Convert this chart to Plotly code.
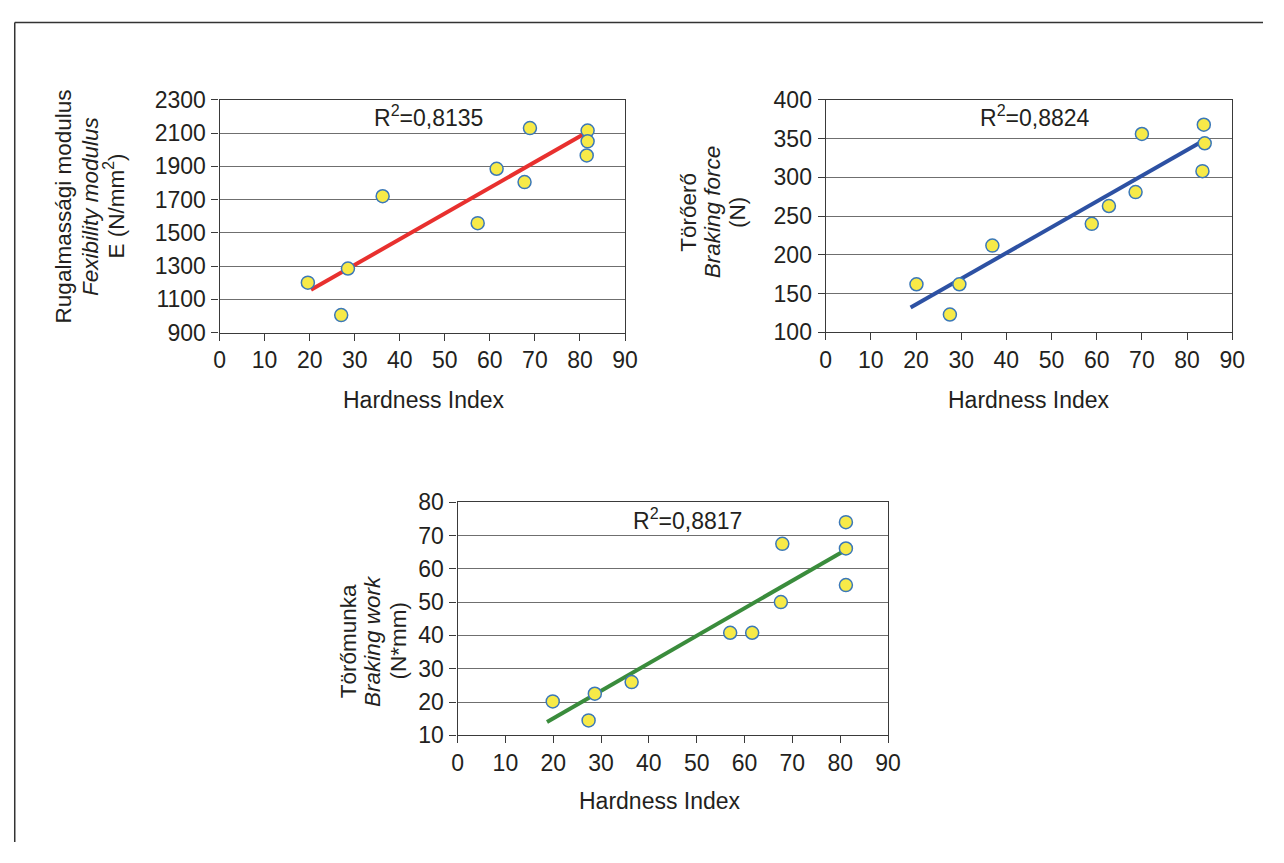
import plotly.graph_objects as go

# ---------------- data ----------------
hard_E = [19.6, 27.0, 28.5, 36.2, 57.3, 61.5, 67.7, 68.9, 81.7, 81.7, 81.5]
E_vals = [1200, 1005, 1285, 1720, 1558, 1885, 1805, 2130, 2115, 2050, 1965]
E_trend_x = [20.3, 80.7]
E_trend_y = [1157, 2091]

hard_F = [20.1, 27.5, 29.6, 36.9, 58.9, 62.7, 68.6, 70.0, 83.7, 83.9, 83.4]
F_vals = [162, 123, 162, 212, 240, 263, 281, 356, 368, 344, 308]
F_trend_x = [18.8, 82.9]
F_trend_y = [132, 345]

hard_W = [19.9, 27.4, 28.7, 36.4, 57.0, 61.6, 67.6, 67.9, 81.2, 81.2, 81.2]
W_vals = [20.2, 14.5, 22.5, 26.0, 40.8, 40.8, 50.0, 67.5, 74.0, 66.1, 55.1]
W_trend_x = [18.7, 80.6]
W_trend_y = [14.0, 65.2]

r2_labels = ["R<sup>2</sup>=0,8135", "R<sup>2</sup>=0,8824", "R<sup>2</sup>=0,8817"]
x_title = "Hardness Index"
y_titles = [
    ["Rugalmassági modulus", "<i>Fexibility modulus</i>", "E (N/mm<sup>2</sup>)"],
    ["Törőerő", "<i>Braking force</i>", "(N)"],
    ["Törőmunka", "<i>Braking work</i>", "(N*mm)"],
]

# ---------------- layout helpers ----------------
# the page body has an 8px margin; the figure fills the rest of the 1284x863 window
OFF = 8
W, H = 1284 - 2 * OFF, 863 - 2 * OFF
FONT = "Liberation Sans, Arial, sans-serif"
TXT = "#231f20"
FS = 23
FS_T = 22.5


def fx(px):
    return (px - OFF) / W


def fy(py):
    return 1 - (py - OFF) / H


fig = go.Figure()

panels = [
    dict(xs="x", ys="y", xd=(216.7, 628.3), yd=(89.3, 329.4), yr=(900, 2300), dt=200,
         hx=hard_E, hy=E_vals, tx=E_trend_x, ty=E_trend_y, col="#e8302e",
         r2=(46.4, 2202), tpos=(58, 85, 110), tcy=199, xtitle=(424.5, 399)),
    dict(xs="x2", ys="y2", xd=(832.0, 1244.8), yd=(89.4, 329.2), yr=(100, 400), dt=50,
         hx=hard_F, hy=F_vals, tx=F_trend_x, ty=F_trend_y, col="#2d51a3",
         r2=(46.3, 379), tpos=(693, 718, 743), tcy=205, xtitle=(1038.6, 399)),
    dict(xs="x3", ys="y3", xd=(458.3, 895.3), yd=(504.4, 745.0), yr=(10, 80), dt=10,
         hx=hard_W, hy=W_vals, tx=W_trend_x, ty=W_trend_y, col="#3a8c3c",
         r2=(48.0, 74.9), tpos=(347, 372, 398), tcy=648, xtitle=(663.7, 813)),
]

annotations = []
for i, p in enumerate(panels):
    fig.add_trace(go.Scatter(x=p["tx"], y=p["ty"], mode="lines",
                             line=dict(color=p["col"], width=4),
                             xaxis=p["xs"], yaxis=p["ys"], showlegend=False,
                             hoverinfo="skip"))
    fig.add_trace(go.Scatter(x=p["hx"], y=p["hy"], mode="markers",
                             marker=dict(size=13, color="#f7ea48",
                                         line=dict(color="#3b78b8", width=1.5)),
                             xaxis=p["xs"], yaxis=p["ys"], showlegend=False))
    suffix = "" if i == 0 else str(i + 1)
    axis_common = dict(showline=True, mirror=True, linecolor="#3a3a3a", linewidth=1.2,
                       ticks="outside", ticklen=7, tickcolor="#3a3a3a", tickwidth=1.2,
                       tickfont=dict(family=FONT, size=FS, color=TXT), zeroline=False)
    fig.update_layout(**{
        "xaxis" + suffix: dict(domain=[fx(p["xd"][0]), fx(p["xd"][1])],
                               range=[0, 90], dtick=10, tick0=0, showgrid=False,
                               anchor="y" + suffix, ticklabelstandoff=0, **axis_common),
        "yaxis" + suffix: dict(domain=[fy(p["yd"][1]), fy(p["yd"][0])],
                               range=list(p["yr"]), dtick=p["dt"], tick0=p["yr"][0],
                               showgrid=True, gridcolor="#6f6f6f", gridwidth=1,
                               anchor="x" + suffix, ticklabelstandoff=1, **axis_common),
    })
    annotations.append(dict(x=p["r2"][0], y=p["r2"][1], xref=p["xs"], yref=p["ys"],
                            text=r2_labels[i], showarrow=False,
                            font=dict(family=FONT, size=FS, color=TXT)))
    for k, t in enumerate(y_titles[i]):
        annotations.append(dict(x=fx(p["tpos"][k]), y=fy(p["tcy"]), xref="paper", yref="paper",
                                text=t, textangle=-90, showarrow=False,
                                xanchor="center", yanchor="middle",
                                font=dict(family=FONT, size=FS_T, color=TXT)))
    annotations.append(dict(x=fx(p["xtitle"][0]), y=fy(p["xtitle"][1]), xref="paper",
                            yref="paper", text=x_title, showarrow=False,
                            xanchor="center", yanchor="middle",
                            font=dict(family=FONT, size=FS, color=TXT)))

shapes = [
    dict(type="line", xref="paper", yref="paper", x0=fx(8.75), x1=1.0, y0=fy(9.5), y1=fy(9.5),
         line=dict(color="#333333", width=1.5)),
    dict(type="line", xref="paper", yref="paper", x0=fx(8.75), x1=fx(8.75), y0=fy(9.5), y1=0.0,
         line=dict(color="#333333", width=1.5)),
]

fig.update_layout(width=W, height=H, margin=dict(l=0, r=0, t=0, b=0),
                  paper_bgcolor="white", plot_bgcolor="white",
                  annotations=annotations, shapes=shapes, showlegend=False,
                  font=dict(family=FONT, color=TXT))

fig.write_html("out.html")
